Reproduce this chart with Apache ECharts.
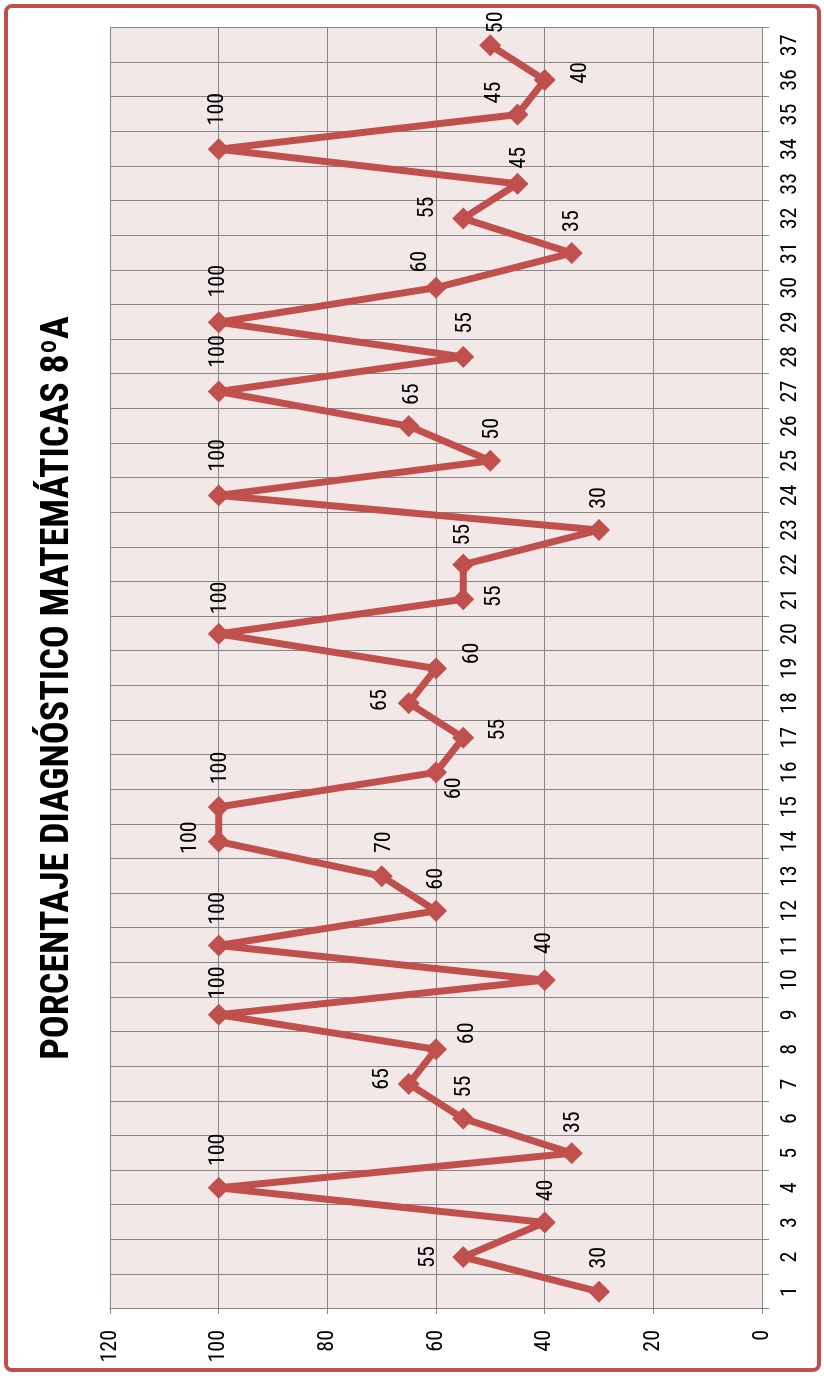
<!DOCTYPE html>
<html>
<head>
<meta charset="utf-8">
<script src="https://cdn.jsdelivr.net/npm/echarts@6/dist/echarts.min.js"></script>
<style>
html, body { margin: 0; padding: 0; background: #ffffff; overflow: hidden; }
#wrap { position: absolute; left: 0; top: 0; width: 824px; height: 1376px; overflow: hidden; }
#chart {
  position: absolute; left: 0; top: 0;
  width: 1376px; height: 824px;
  transform-origin: 0 0;
  transform: translate(0px, 1376px) rotate(-90deg);
}
</style>
</head>
<body>
<div id="wrap"><div id="chart"></div></div>
<script>
// ---- data ----
const titleText = 'PORCENTAJE DIAGNÓSTICO MATEMÁTICAS 8ºA';
const categories = ['1','2','3','4','5','6','7','8','9','10','11','12','13','14','15','16','17','18','19','20','21','22','23','24','25','26','27','28','29','30','31','32','33','34','35','36','37'];
const values = [30,55,40,100,35,55,65,60,100,40,100,60,70,100,100,60,55,65,60,100,55,55,30,100,50,65,100,55,100,60,35,55,45,100,45,40,50];
const valueTicks = [0,20,40,60,80,100,120];

// label placement offsets (chart frame, px) - style only
const labelOffsets = [
  [34,0],[0,-35],[32,2],[38,0],[31,2],[32,1],[5,-26],[16,31],[32,0],[37,0],
  [37,0],[32,0],[34,3],[4,-28],[39,2],[-16,18],[8,35],[3,-28],[15,36],[36,2],
  [3,31],[30,0],[32,0],[40,0],[32,2],[32,4],[40,0],[34,2],[41,0],[26,-16],
  [32,1],[11,-36],[26,2],[40,-1],[22,-23],[7,36],[23,6]
];

const FONT = "'Roboto Condensed', 'Carlito', sans-serif";
const RED = '#c0504d';
const GRID = '#868686';

const chart = echarts.init(document.getElementById('chart'));
const seriesData = values.map((v, i) => ({
  value: v,
  label: { offset: labelOffsets[i] }
}));

chart.setOption({
  animation: false,
  backgroundColor: '#ffffff',
  title: {
    text: titleText,
    left: 'center',
    top: 34,
    textStyle: { fontFamily: FONT, fontWeight: 'bold', fontSize: 38, color: '#000000' }
  },
  graphic: [{
    type: 'rect',
    shape: { x: 6, y: 6, width: 1364, height: 813, r: 6 },
    style: { fill: 'none', stroke: RED, lineWidth: 4 },
    silent: true
  }],
  grid: {
    left: 67, top: 110, width: 1281, height: 652,
    show: true, backgroundColor: '#f2e8e8', borderWidth: 0
  },
  xAxis: {
    type: 'category',
    data: categories,
    boundaryGap: true,
    axisLine: { show: true, lineStyle: { color: GRID, width: 1 } },
    axisTick: { show: true, length: 7, lineStyle: { color: GRID } },
    axisLabel: { margin: 17, fontFamily: FONT, fontSize: 22, color: '#000000', interval: 0 },
    splitLine: { show: true, interval: 0, lineStyle: { color: GRID, width: 1 } }
  },
  yAxis: {
    type: 'value',
    min: valueTicks[0],
    max: valueTicks[valueTicks.length - 1],
    interval: valueTicks[1] - valueTicks[0],
    axisLine: { show: true, lineStyle: { color: GRID, width: 1 } },
    axisTick: { show: true, length: 5, lineStyle: { color: GRID } },
    axisLabel: { margin: 21, fontFamily: FONT, fontSize: 22, color: '#000000' },
    splitLine: { show: true, lineStyle: { color: GRID, width: 1 } }
  },
  series: [{
    type: 'line',
    data: seriesData,
    symbol: 'diamond',
    symbolSize: 22,
    lineStyle: { color: RED, width: 7 },
    itemStyle: { color: RED },
    label: {
      show: true,
      position: 'inside',
      fontFamily: FONT,
      fontSize: 22,
      color: '#000000'
    },
    z: 3
  }]
});
</script>
</body>
</html>
